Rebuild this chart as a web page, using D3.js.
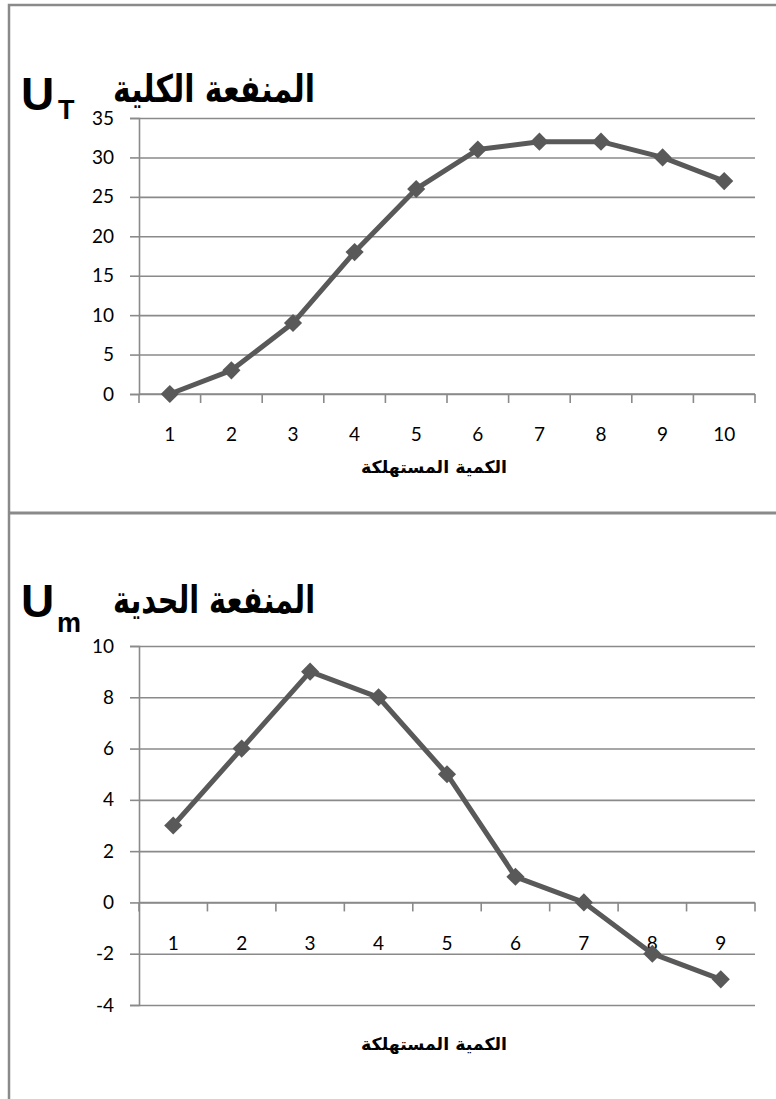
<!DOCTYPE html>
<html>
<head>
<meta charset="utf-8">
<script src="https://cdn.jsdelivr.net/npm/d3@7"></script>
<style>
  body { margin: 0; background: #fff; }
  svg { display: block; }
</style>
</head>
<body>
<svg id="chart" width="776" height="1099"></svg>
<script>
// data
const qtyTotal = ["1", "2", "3", "4", "5", "6", "7", "8", "9", "10"];
const totalUtility = [0, 3, 9, 18, 26, 31, 32, 32, 30, 27];
const totalTicks = [0, 5, 10, 15, 20, 25, 30, 35];

const qtyMarginal = ["1", "2", "3", "4", "5", "6", "7", "8", "9"];
const marginalUtility = [3, 6, 9, 8, 5, 1, 0, -2, -3];
const marginalTicks = [-4, -2, 0, 2, 4, 6, 8, 10];

const xTitle = "الكمية المستهلكة";

const gridColor = "#8a8a8a";
const lineColor = "#595959";

const svg = d3.select("#chart");

// frames (panel borders)
svg.append("path")
    .attr("d", "M9,1099 L9,5 L776,5")
    .attr("fill", "none").attr("stroke", gridColor).attr("stroke-width", 2.5);
svg.append("line")
    .attr("x1", 9).attr("x2", 776).attr("y1", 513).attr("y2", 513)
    .attr("stroke", gridColor).attr("stroke-width", 3);

function drawPanel(cfg) {
    const x = d3.scaleBand().domain(cfg.cats).range([139, 755]);
    const y = d3.scaleLinear().domain([cfg.ticks[0], cfg.ticks[cfg.ticks.length - 1]])
        .range([cfg.bottom, cfg.top]);
    const g = svg.append("g");

    // gridlines
    g.append("g")
        .attr("transform", "translate(139,0)")
        .call(d3.axisLeft(y).tickValues(cfg.ticks).tickSize(-616).tickFormat(""))
        .call(a => a.select(".domain").remove())
        .call(a => a.selectAll("line").attr("stroke", gridColor).attr("stroke-width", 1.6));

    // y axis with short ticks and labels
    g.append("g")
        .attr("transform", "translate(139,0)")
        .call(d3.axisLeft(y).tickValues(cfg.ticks).tickSize(9).tickPadding(16).tickFormat(d => String(d)))
        .call(a => a.select(".domain").attr("stroke", gridColor).attr("stroke-width", 1.6))
        .call(a => a.selectAll("line").attr("stroke", gridColor).attr("stroke-width", 1.6))
        .call(a => a.selectAll("text")
            .attr("font-family", "Lato, 'Open Sans', sans-serif")
            .attr("font-size", 19).attr("fill", "#000"));

    // x axis at zero: boundary ticks
    const y0 = y(0);
    const bounds = cfg.cats.map(d => x(d)).concat([x(cfg.cats[cfg.cats.length - 1]) + x.bandwidth()]);
    g.append("line")
        .attr("x1", 139).attr("x2", 755).attr("y1", y0).attr("y2", y0)
        .attr("stroke", gridColor).attr("stroke-width", 1.6);
    g.selectAll(".btick").data(bounds).join("line")
        .attr("x1", d => d).attr("x2", d => d)
        .attr("y1", y0).attr("y2", y0 + 9)
        .attr("stroke", gridColor).attr("stroke-width", 1.6);

    // x tick labels
    g.append("g")
        .attr("transform", `translate(0,${y0})`)
        .call(d3.axisBottom(x).tickSize(0).tickPadding(cfg.labelPad))
        .call(a => a.select(".domain").remove())
        .call(a => a.selectAll("text")
            .attr("font-family", "Lato, 'Open Sans', sans-serif")
            .attr("font-size", 19).attr("fill", "#000"));

    // x title
    g.append("text")
        .attr("x", 434).attr("y", cfg.xTitleY)
        .attr("text-anchor", "middle")
        .attr("font-family", "'DejaVu Sans', sans-serif")
        .attr("font-weight", "bold").attr("font-size", 17)
        .attr("textLength", 146).attr("lengthAdjust", "spacingAndGlyphs")
        .text(xTitle);

    // line + diamond markers
    const pts = cfg.cats.map((c, i) => [x(c) + x.bandwidth() / 2, y(cfg.values[i])]);
    g.append("path")
        .attr("d", d3.line()(pts))
        .attr("fill", "none").attr("stroke", lineColor)
        .attr("stroke-width", 5).attr("stroke-linejoin", "round");
    g.selectAll(".mk").data(pts).join("path")
        .attr("transform", d => `translate(${d[0]},${d[1]})`)
        .attr("d", d3.symbol(d3.symbolDiamond2, 210))
        .attr("fill", lineColor);

    // title: U + subscript + arabic
    const t = g.append("g");
    t.append("text")
        .attr("x", 21).attr("y", cfg.titleY)
        .attr("font-family", "'Liberation Sans', Arial, sans-serif")
        .attr("font-weight", "bold").attr("font-size", 46)
        .text("U");
    t.append("text")
        .attr("x", cfg.subX).attr("y", cfg.titleY + cfg.subDy)
        .attr("font-family", "'Liberation Sans', Arial, sans-serif")
        .attr("font-weight", "bold").attr("font-size", 27)
        .text(cfg.sub);
    t.append("text")
        .attr("x", 214).attr("y", cfg.arY)
        .attr("text-anchor", "middle")
        .attr("font-family", "'DejaVu Sans', sans-serif")
        .attr("font-weight", "bold").attr("font-size", 38)
        .attr("textLength", 202).attr("lengthAdjust", "spacingAndGlyphs")
        .text(cfg.title);
}

drawPanel({
    cats: qtyTotal, values: totalUtility, ticks: totalTicks,
    top: 118, bottom: 394, labelPad: 34, xTitleY: 473,
    title: "المنفعة الكلية", sub: "T", subX: 58, titleY: 110, subDy: 9, arY: 102
});

drawPanel({
    cats: qtyMarginal, values: marginalUtility, ticks: marginalTicks,
    top: 646, bottom: 1005, labelPad: 34, xTitleY: 1050,
    title: "المنفعة الحدية", sub: "m", subX: 57, titleY: 617, subDy: 15, arY: 613
});
</script>
</body>
</html>
